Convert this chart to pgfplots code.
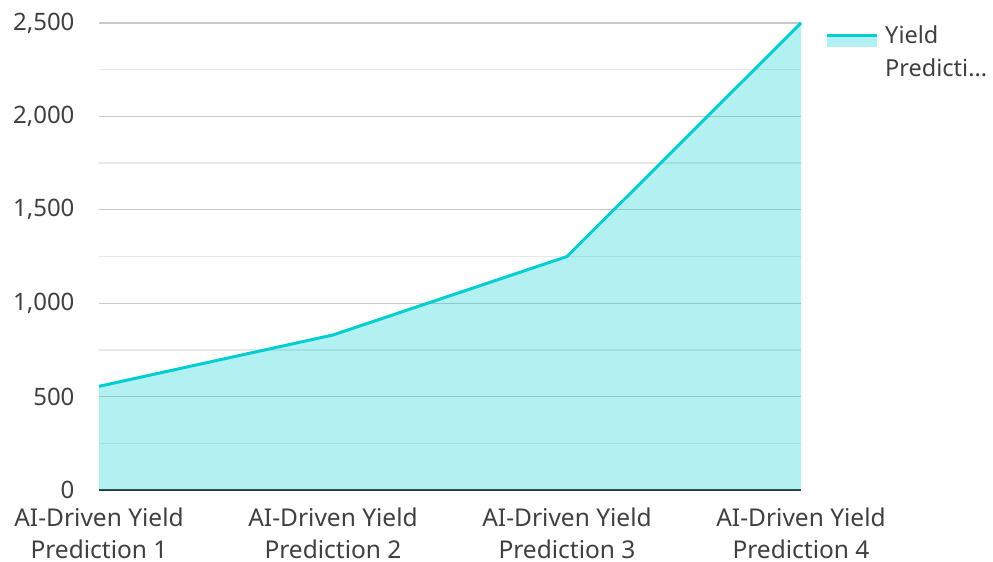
\documentclass[border=0pt]{standalone}
\usepackage{fontspec}
\setmainfont{Noto Sans}
\usepackage{pgfplots}
\pgfplotsset{compat=1.18}
\definecolor{lc}{RGB}{0,206,209}
\definecolor{tx}{RGB}{64,64,64}
\begin{document}
\begin{tikzpicture}
\begin{axis}[
 scale only axis, width=702pt, height=467pt,
 xmin=0, xmax=3, ymin=0, ymax=2500,
 xtick={0,1,2,3},
 xticklabels={{AI-Driven Yield\\Prediction 1},{AI-Driven Yield\\Prediction 2},{AI-Driven Yield\\Prediction 3},{AI-Driven Yield\\Prediction 4}},
 xticklabel style={align=center, font=\fontsize{24.5}{32}\selectfont, text=tx, inner sep=0pt, yshift=-18pt},
 ytick={0,500,...,2500}, minor ytick={250,750,...,2250},
 yticklabel style={font=\fontsize{24}{28}\selectfont, text=tx, xshift=-21pt, /pgf/number format/1000 sep={,}, /pgf/number format/assume math mode=true},
 ymajorgrids, yminorgrids,
 major grid style={color=black!21, line width=1.3pt},
 minor grid style={color=black!9, line width=1.3pt},
 axis x line*=bottom, axis y line*=left,
 y axis line style={draw=none},
 x axis line style={draw=black!82, line width=1.8pt, -},
 tick style={draw=none},
 clip=false,
 legend style={at={(rel axis cs:1,1)}, anchor=north west, xshift=21pt, yshift=2pt, draw=none, fill=none,
   font=\fontsize{23.5}{33}\selectfont, text=tx, cells={align=left, anchor=west}, column sep=5pt},
 legend image code/.code={
   \path[fill=lc, fill opacity=0.3, draw=none] (0pt,4pt) rectangle (50pt,16pt);
   \path[draw=lc, line width=3pt] (0pt,16pt)--(50pt,16pt);
 },
]
\addplot[draw=none, fill=lc, fill opacity=0.3, forget plot] coordinates {(0,555) (1,830) (2,1250) (3,2500)} \closedcycle;
\addplot[lc, line width=3pt, line join=round] coordinates {(0,555) (1,830) (2,1250) (3,2500)};
\addlegendentry{Yield\\Predicti...}
\coordinate (bl) at (rel axis cs:0,0);
\coordinate (tr) at (rel axis cs:1,1);
\end{axis}
\path (bl) ++(-99pt,-72pt) coordinate (BL);
\path (tr) ++(192pt,23pt) coordinate (TR);
\path (BL) rectangle (TR);
\end{tikzpicture}
\end{document}
